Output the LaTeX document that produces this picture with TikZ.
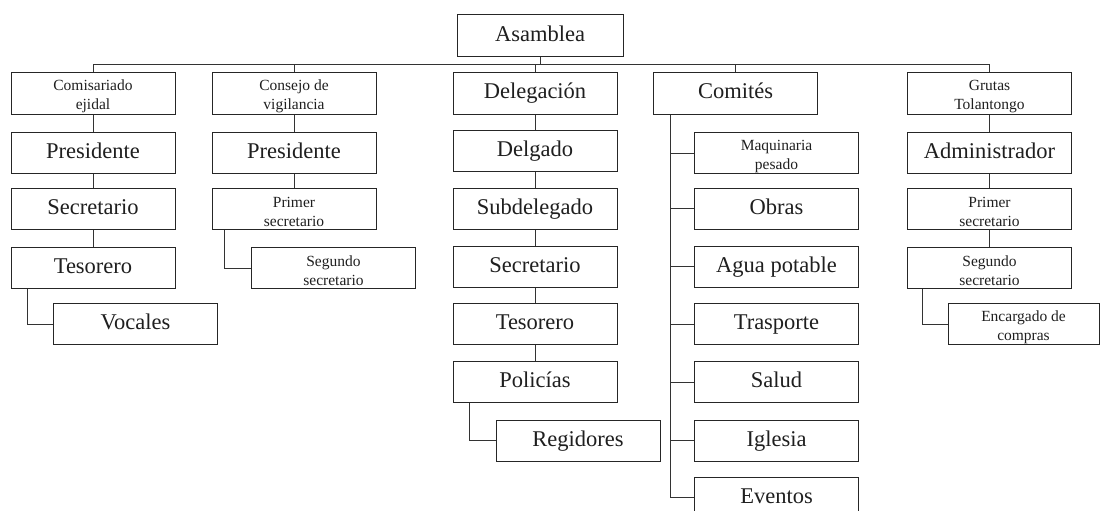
\documentclass[tikz,border=0pt]{standalone}
\usepackage{fontspec}
\setmainfont{Liberation Serif}
\newcommand\sst{\rule{0pt}{17pt}}
\begin{document}
\begin{tikzpicture}[x=1pt,y=-1pt,
  box/.style={draw=black!85, line width=1pt, minimum width=164pt, minimum height=41pt,
    inner sep=0pt, align=center, text=black!88, font=\fontsize{22.5}{26}\selectfont,
    text height=17pt, text depth=6pt},
  sbox/.style={draw=black!85, line width=1pt, minimum width=164pt, minimum height=41pt,
    inner sep=0pt, align=center, text=black!88, font=\fontsize{15.5}{19}\selectfont},
  link/.style={draw=black!80, line width=1pt}]
\useasboundingbox (0,0) rectangle (1100,511);
\clip (0,0) rectangle (1100,511);
\fill[white] (0,0) rectangle (1100,511);

% top
\node[box, minimum width=166pt, minimum height=42pt] (asm) at (540,36) {Asamblea};

% column 1
\node[sbox] (c1a) at (93,93.5) {\sst Comisariado\\ejidal};
\node[box] (c1b) at (93,152.5) {Presidente};
\node[box] (c1c) at (93,208.5) {Secretario};
\node[box] (c1d) at (93,268) {Tesorero};
\node[box] (c1e) at (135.5,324) {Vocales};

% column 2
\node[sbox] (c2a) at (294,93.5) {\sst Consejo de\\vigilancia};
\node[box] (c2b) at (294,152.5) {Presidente};
\node[sbox] (c2c) at (294,208.5) {\sst Primer\\secretario};
\node[sbox] (c2d) at (333.5,268) {\sst Segundo\\secretario};

% column 3
\node[box] (c3a) at (535,93.5) {Delegación};
\node[box] (c3b) at (535,151) {Delgado};
\node[box] (c3c) at (535,208.5) {Subdelegado};
\node[box] (c3d) at (535,266.5) {Secretario};
\node[box] (c3e) at (535,324) {Tesorero};
\node[box] (c3f) at (535,382) {Policías};
\node[box] (c3g) at (578,440.5) {Regidores};

% column 4
\node[box] (c4a) at (735.5,93.5) {Comités};
\node[sbox] (c4b) at (776.5,153) {\sst Maquinaria\\pesado};
\node[box] (c4c) at (776.5,208.5) {Obras};
\node[box] (c4d) at (776.5,266.5) {Agua potable};
\node[box] (c4e) at (776.5,324) {Trasporte};
\node[box] (c4f) at (776.5,382) {Salud};
\node[box] (c4g) at (776.5,440.5) {Iglesia};
\node[box] (c4h) at (776.5,497.5) {Eventos};

% column 5
\node[sbox] (c5a) at (989.5,93.5) {\sst Grutas\\Tolantongo};
\node[box] (c5b) at (989.5,152.5) {Administrador};
\node[sbox] (c5c) at (989.5,208.5) {\sst Primer\\secretario};
\node[sbox] (c5d) at (989.5,268) {\sst Segundo\\secretario};
\node[sbox, minimum width=151pt] (c5e) at (1023.5,324) {\sst Encargado de\\compras};

% bus
\draw[link] (asm.south) -- ++(0,8);
\draw[link] (c1a.north) -- ++(0,-8) -| (c5a.north);
\draw[link] (c2a.north) -- ++(0,-8);
\draw[link] (c3a.north) -- ++(0,-8);
\draw[link] (c4a.north) -- ++(0,-8);

% column 1 links
\draw[link] (c1a) -- (c1b);
\draw[link] (c1b) -- (c1c);
\draw[link] (c1c) -- (c1d);
\draw[link] ([xshift=17pt]c1d.south west) |- (c1e.west);

% column 2 links
\draw[link] (c2a) -- (c2b);
\draw[link] (c2b) -- (c2c);
\draw[link] ([xshift=13pt]c2c.south west) |- (c2d.west);

% column 3 links
\draw[link] (c3a) -- (c3b);
\draw[link] (c3b) -- (c3c);
\draw[link] (c3c) -- (c3d);
\draw[link] (c3d) -- (c3e);
\draw[link] (c3e) -- (c3f);
\draw[link] ([xshift=17pt]c3f.south west) |- (c3g.west);

% column 4 links
\coordinate (t4) at ([xshift=17pt]c4a.south west);
\draw[link] (t4) |- (c4h.west);
\foreach \n in {c4b,c4c,c4d,c4e,c4f,c4g}
  \draw[link] (t4 |- \n.west) -- (\n.west);

% column 5 links
\draw[link] (c5a) -- (c5b);
\draw[link] (c5b) -- (c5c);
\draw[link] (c5c) -- (c5d);
\draw[link] ([xshift=15pt]c5d.south west) |- (c5e.west);
\end{tikzpicture}
\end{document}
